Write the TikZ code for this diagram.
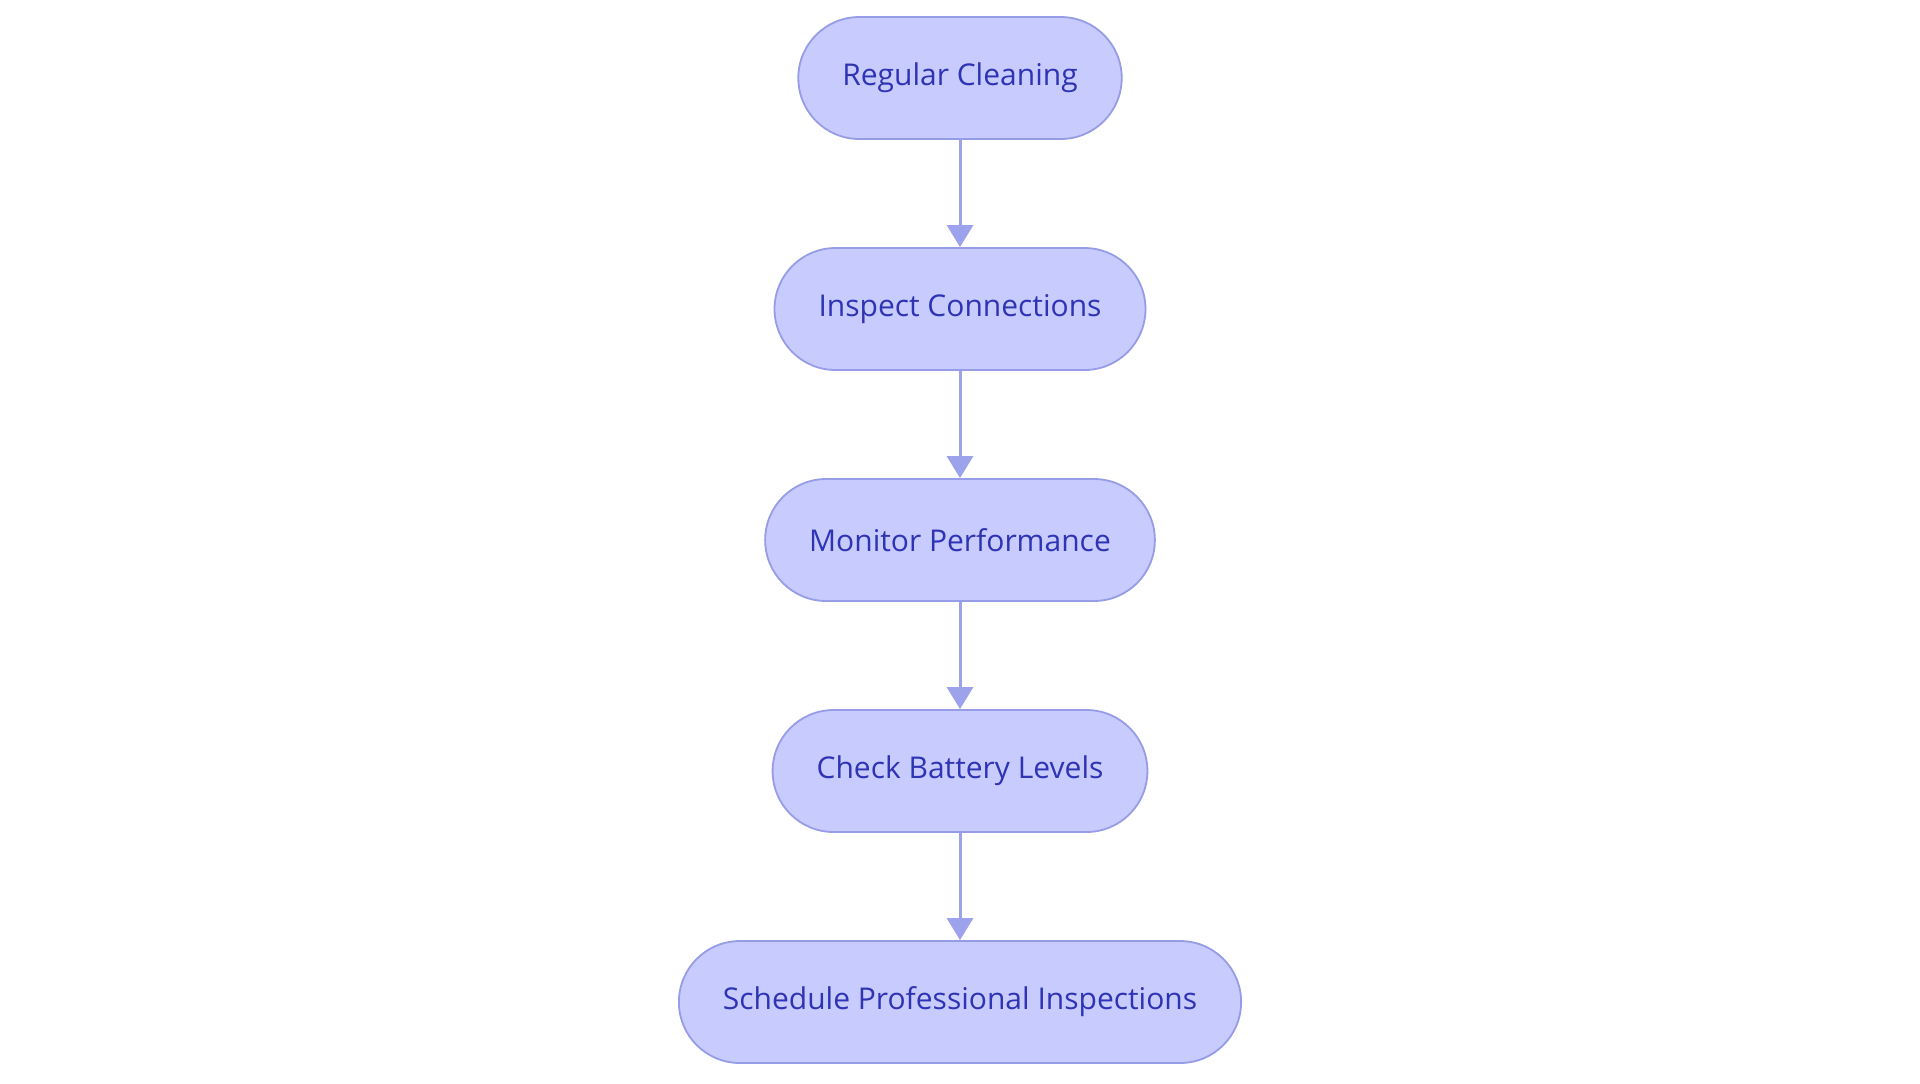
\documentclass[tikz,border=0pt]{standalone}
\usepackage{fontspec}
\setmainfont{Open Sans}
\usetikzlibrary{arrows.meta, positioning}
\definecolor{stepfill}{RGB}{200,203,254}
\definecolor{stepline}{RGB}{150,156,230}
\definecolor{steptext}{RGB}{46,52,180}
\definecolor{arrowline}{RGB}{157,162,236}

\tikzset{
    stepbox/.style = {
      draw = stepline,
      fill = stepfill,
      line width = 0.9pt,
      rounded corners = 30.5pt,
      minimum height = 61pt,
      inner xsep = 22pt,
      text = steptext,
      font = \fontsize{15pt}{17pt}\selectfont
    },
    flowarrow/.style = {
      draw = arrowline,
      line width = 1.5pt,
      -{Triangle[width=13pt, length=11pt]}
    }
}

\begin{document}
\begin{tikzpicture}[node distance = 53.6pt]
    \useasboundingbox (0,0) rectangle (960pt,-541.5pt);

    \node[stepbox] (cleaning) at (480pt,-39pt) {Regular Cleaning};
    \node[stepbox, below = of cleaning] (connections) {Inspect Connections};
    \node[stepbox, below = of connections] (performance) {Monitor Performance};
    \node[stepbox, below = of performance] (battery) {Check Battery Levels};
    \node[stepbox, below = of battery] (inspections) {Schedule Professional Inspections};

    \draw[flowarrow] (cleaning) -- (connections);
    \draw[flowarrow] (connections) -- (performance);
    \draw[flowarrow] (performance) -- (battery);
    \draw[flowarrow] (battery) -- (inspections);
  \end{tikzpicture}
\end{document}
